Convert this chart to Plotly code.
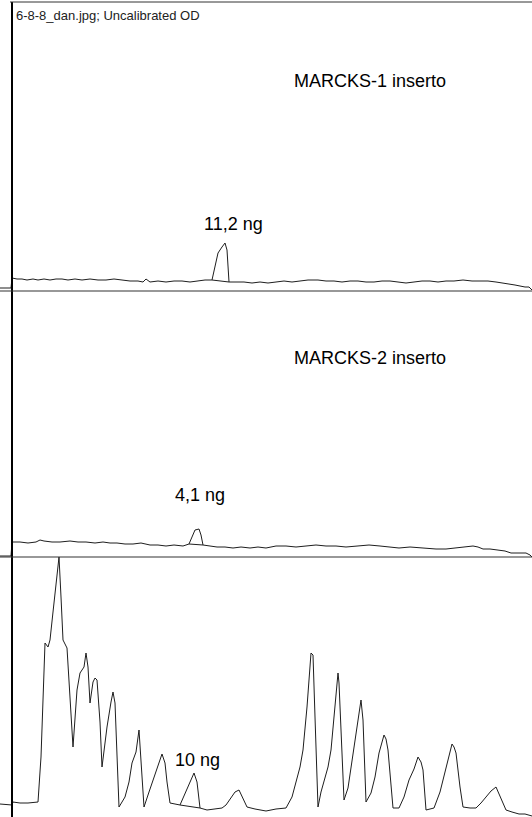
import plotly.graph_objects as go

# ---- data: densitometry profiles (position in px along lane, OD units) ----
pos_1 = [0, 11, 12, 17, 22, 27, 33, 38, 44, 50, 56, 62, 68, 75, 82, 90, 98, 106, 114, 122,
         130, 138, 143, 146, 150, 158, 166, 174, 182, 190, 198, 205, 212, 215, 218, 222, 225,
         227, 229, 236, 244, 252, 260, 268, 276, 284, 292, 300, 308, 318, 326, 334, 342, 350,
         358, 366, 374, 382, 390, 398, 406, 414, 422, 430, 438, 446, 454, 463, 472, 480, 488,
         496, 504, 510, 515, 520, 525, 529, 532]
od_1 = [3, 3, 13, 12, 12, 11, 12, 11, 12, 11, 12, 12, 11, 12, 11, 12, 11, 11, 12, 11,
        10, 10, 9, 12, 9, 10, 9, 10, 10, 9, 10, 11, 11, 24, 38, 44, 48,
        41, 9, 9, 9, 8, 9, 8, 9, 10, 9, 10, 11, 11, 10, 10, 9, 10,
        10, 9, 9, 10, 10, 9, 8, 9, 10, 10, 9, 10, 10, 11, 10, 10, 10,
        9, 8, 7, 6, 5, 4, 4, 1]

pos_2 = [0, 11, 12, 20, 28, 36, 40, 44, 52, 60, 70, 78, 86, 95, 103, 110, 117, 125, 133, 141,
         150, 158, 166, 174, 183, 189, 192, 195, 199, 201, 203, 210, 217, 225, 233, 241, 250,
         258, 266, 276, 286, 296, 306, 316, 326, 336, 346, 356, 369, 380, 390, 399, 410, 420,
         426, 436, 446, 456, 466, 473, 478, 483, 490, 499, 505, 511, 518, 526, 530, 532]
od_2 = [1, 1, 15, 15, 14, 15, 17, 16, 15, 15, 16, 15, 15, 14, 15, 14, 14, 13, 13, 14,
        12, 12, 11, 12, 11, 13, 20, 27, 28, 22, 12, 11, 10, 10, 9, 10, 9,
        10, 9, 11, 11, 10, 11, 12, 11, 11, 10, 11, 12, 11, 10, 9, 10, 9,
        9, 8, 8, 9, 10, 11, 10, 8, 8, 7, 6, 4, 4, 4, 2, 0]

pos_3 = [0, 12, 13, 20, 28, 38, 41, 43, 45, 48, 50, 53, 56, 59, 61, 63, 67, 70, 73, 77, 80, 84,
         86, 88, 90, 93, 95, 97, 100, 102, 107, 111, 113, 115, 117, 119, 125, 129, 132, 136,
         139, 141, 144, 149, 153, 158, 162, 165, 167, 170, 175, 180, 187, 194, 197, 200, 207,
         215, 222, 226, 230, 235, 239, 242, 247, 255, 266, 276, 286, 292, 296, 300, 303, 307,
         311, 313, 315, 318, 321, 324, 328, 331, 335, 338, 339, 341, 344, 348, 352, 356, 359,
         361, 363, 366, 371, 375, 379, 384, 386, 388, 393, 399, 404, 409, 414, 418, 421, 423,
         426, 434, 440, 446, 452, 454, 456, 460, 463, 470, 476, 481, 486, 491, 496, 500, 506,
         512, 519, 525, 532]
od_3 = [13, 12, 15, 14, 14, 15, 60, 130, 174, 170, 177, 205, 230, 260, 220, 177, 169, 120, 70, 127, 144, 150,
        164, 150, 114, 135, 139, 137, 95, 50, 90, 115, 125, 114, 60, 10, 20, 35, 54, 65,
        87, 55, 10, 25, 37, 50, 63, 54, 35, 14, 13, 12, 28, 44, 35, 9, 7,
        8, 9, 12, 18, 25, 27, 20, 10, 8, 6, 8, 9, 20, 34, 50, 67, 110,
        164, 162, 100, 10, 25, 37, 50, 67, 110, 144, 134, 90, 17, 29, 55, 84, 105,
        117, 97, 15, 24, 40, 64, 82, 78, 67, 9, 9, 20, 37, 48, 60, 55, 47,
        7, 9, 25, 50, 73, 70, 64, 30, 10, 9, 9, 14, 20, 26, 30, 20, 7,
        5, 3, 3, 1]

assert len(pos_1) == len(od_1) and len(pos_2) == len(od_2) and len(pos_3) == len(od_3)

panel_titles = ["MARCKS-1 inserto", "MARCKS-2 inserto", None]
peak_labels = ["11,2 ng", "4,1 ng", "10 ng"]
peak_bounds = [(212, 229), (189, 203), (180, 200)]
header_text = "6-8-8_dan.jpg; Uncalibrated OD"

# ---- layout geometry (pixels) ----
W, H = 532, 817
panels_px = [(2, 291), (291, 557), (557, 817)]     # top, bottom
label_px = [(233, 224), (200, 495), (197, 760)]     # peak label centre x, y (px)
title_px = [(292, 81), (292, 358)]
axis_x_px = 12

def py(p):
    return 1 - p / H

series = [(pos_1, od_1), (pos_2, od_2), (pos_3, od_3)]
fig = go.Figure()
line_col = "#1e1e1e"
font_family = "Liberation Sans, Arial"

for i, ((xs, ys), (top, bot)) in enumerate(zip(series, panels_px)):
    ax = "" if i == 0 else str(i + 1)
    fig.add_trace(go.Scatter(x=xs, y=ys, mode="lines", xaxis="x" + ax, yaxis="y" + ax,
                             line=dict(color=line_col, width=1), hoverinfo="skip",
                             showlegend=False))
    lookup = dict(zip(xs, ys))
    a, b = peak_bounds[i]
    fig.add_trace(go.Scatter(x=[a, b], y=[lookup[a], lookup[b]], mode="lines",
                             xaxis="x" + ax, yaxis="y" + ax,
                             line=dict(color=line_col, width=1), hoverinfo="skip",
                             showlegend=False))
    height = bot - top
    fig.layout["xaxis" + ax] = dict(domain=[0, 1], range=[0, W], visible=False,
                                    anchor="y" + ax, fixedrange=True)
    fig.layout["yaxis" + ax] = dict(domain=[py(bot), py(top)], range=[0, height],
                                    visible=False, anchor="x" + ax, fixedrange=True)
    lx, ly = label_px[i]
    fig.add_annotation(x=lx, y=bot - ly, xref="x" + ax, yref="y" + ax,
                       text=peak_labels[i], showarrow=False, xanchor="center",
                       yanchor="middle", font=dict(size=18, color="#000",
                                                   family=font_family))
    if panel_titles[i]:
        tx, ty = title_px[i]
        fig.add_annotation(x=tx, y=bot - ty, xref="x" + ax, yref="y" + ax,
                           text=panel_titles[i], showarrow=False, xanchor="left",
                           yanchor="middle", font=dict(size=18, color="#000",
                                                       family=font_family))

# frame lines
shapes = []
shapes.append(dict(type="line", xref="paper", yref="paper", x0=axis_x_px / W, x1=axis_x_px / W,
                   y0=0, y1=py(2), line=dict(color="#000", width=2), layer="above"))
shapes.append(dict(type="line", xref="paper", yref="paper", x0=10 / W, x1=1,
                   y0=py(2), y1=py(2), line=dict(color="#333", width=1), layer="above"))
for top, bot in panels_px[:2]:
    shapes.append(dict(type="line", xref="paper", yref="paper", x0=0, x1=1,
                       y0=py(bot), y1=py(bot), line=dict(color="#333", width=1.2),
                       layer="above"))

fig.add_annotation(x=14 / W, y=py(16), xref="paper", yref="paper", text=header_text,
                   showarrow=False, xanchor="left", yanchor="middle",
                   font=dict(size=13, color="#222", family=font_family))

fig.update_layout(width=W, height=H, margin=dict(l=0, r=0, t=0, b=0),
                  paper_bgcolor="white", plot_bgcolor="white", shapes=shapes,
                  showlegend=False)

fig.write_html("out.html", config={"displayModeBar": False})
